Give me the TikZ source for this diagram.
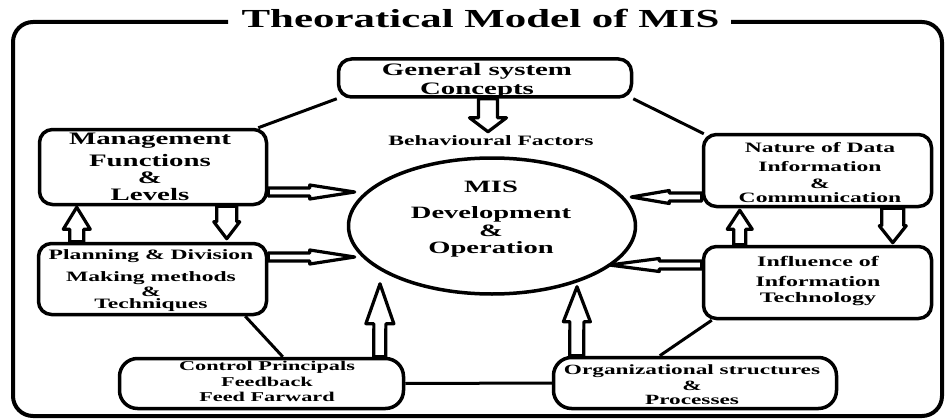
\documentclass[tikz,border=0pt]{standalone}
\usepackage{fontspec}
\setmainfont{Liberation Serif}[FakeStretch=1.65]
\usetikzlibrary{calc,shapes.geometric}
\pgfdeclarelayer{bg}
\pgfsetlayers{bg,main}
\newcommand\fs[2]{\bfseries\fontsize{#1}{#2}\selectfont}
% hollow block arrow: #1 half shaft, #2 half head, #3 head length, #4 from, #5 to
\newcommand\harrow[5]{%
  \coordinate (hah) at ($(#5)!#3pt!(#4)$);
  \draw[hollow] ($(#4)!#1pt!90:(#5)$) -- ($(hah)!#1pt!90:(#5)$) -- ($(hah)!#2pt!90:(#5)$)
    -- (#5) -- ($(hah)!#2pt!-90:(#5)$) -- ($(hah)!#1pt!-90:(#5)$) -- ($(#4)!#1pt!-90:(#5)$) -- cycle;}
\tikzset{
  bx/.style={draw, line width=3.5pt, rounded corners=13pt, inner sep=0pt},
  bxb/.style={draw, line width=3.5pt, rounded corners=18pt, inner sep=0pt},
  txt/.style={inner sep=0pt, align=center, anchor=north},
  conn/.style={line width=3pt},
  hollow/.style={draw, fill=white, line width=3.2pt, line join=round},
  frame/.style={line width=4pt, rounded corners=20pt}
}
\begin{document}
\begin{tikzpicture}[x=1pt, y=-1pt]
\useasboundingbox (0,0) rectangle (951,420);
% outer frame and title
\draw[frame] (228,22) -- (13,22) -- (13,416) -- (942,416) -- (942,22) -- (731,22);
\node[inner sep=0pt, anchor=base, font=\fs{26}{30}] (title) at (480.5,28) {Theoratical Model of MIS};
% boxes
\node[bx, minimum width=293pt, minimum height=38pt] (gs) at (485,78) {};
\node[bx, minimum width=227pt, minimum height=75pt] (mgmt) at (153,167) {};
\node[bx, minimum width=228pt, minimum height=71pt] (plan) at (152.5,279) {};
\node[bx, minimum width=228pt, minimum height=72pt] (nature) at (817.5,170.5) {};
\node[bx, minimum width=228pt, minimum height=72pt] (infl) at (817.5,282.5) {};
\node[bxb, minimum width=284pt, minimum height=50pt] (ctrl) at (261.5,383.5) {};
\node[bxb, minimum width=283pt, minimum height=51pt] (org) at (695,383) {};
\node[draw, ellipse, line width=3.5pt, minimum width=287pt, minimum height=136pt, inner sep=0pt] (mis) at (492,226) {};
% texts
\node[txt, font=\fs{17.5}{21}] (gst) at (477,63) {General system\\[-1.5pt]Concepts};
\node[inner sep=0pt, anchor=base, font=\fs{14.3}{17}] (behav) at (491,145) {Behavioural Factors};
\node[txt, font=\fs{17.3}{20.8}] (mist) at (491,181) {MIS\\[5pt]Development\\[-3pt]\&\\[-3.5pt]Operation};
\node[txt, font=\fs{17.5}{21}] (mgmtt) at (150,133) {Management\\[1pt]Functions\\[-4pt]\&\\[-4.5pt]Levels};
\node[txt, font=\fs{14.3}{17}] (plant) at (151,249) {Planning \& Division\\[5pt]Making methods\\[-2pt]\&\\[-4.5pt]Techniques};
\node[txt, font=\fs{14.3}{17}] (naturet) at (820,142) {Nature of Data\\[2pt]Information\\[0pt]\&\\[-3pt]Communication};
\node[txt, font=\fs{14.5}{17.4}] (inflt) at (818,256) {Influence of\\[2.2pt]Information\\[-1pt]Technology};
\node[txt, font=\fs{13.5}{16.2}] (ctrlt) at (267,361) {Control Principals\\[0pt]Feedback\\[-1.5pt]Feed Farward};
\node[txt, font=\fs{14.1}{17}] (orgt) at (692,365) {Organizational structures\\[-1pt]\&\\[-3.5pt]Processes};
% plain connectors
\draw[conn] (gs.south west) -- ($(mgmt.north east)+(-10,0)$);
\draw[conn] (gs.south east) -- ($(nature.north west)+(2,1)$);
\draw[conn] ($(plan.south east)+(-23,0)$) -- ($(ctrl.north west)+(165,0)$);
\draw[conn] ($(infl.south west)+(10,0)$) -- ($(org.north west)+(108,0)$);
\draw[conn] (ctrl.east) -- (org.west);
% hollow arrows
\begin{pgfonlayer}{bg}
\harrow{9.5}{18.5}{14}{$(gs.south)+(3,0)$}{$(gs.south)+(3,33)$}
\harrow{4}{7}{45}{$(mgmt.east)+(0,25)$}{$(mis.west)+(8,-34)$}
\harrow{4}{7}{45}{$(plan.east)+(0,-22)$}{$(mis.west)+(8,31)$}
\harrow{4}{6.5}{38}{$(nature.west)+(0,26.5)$}{$(mis.east)+(-6,-29)$}
\harrow{4}{6.5}{50}{$(infl.west)+(0,-17.5)$}{$(mis.east)+(-28,39)$}
\harrow{7}{13.5}{22}{$(plan.north west)+(40,0)$}{$(mgmt.south west)+(39,1)$}
\harrow{10}{13}{17}{$(mgmt.south west)+(189,0)$}{$(plan.north west)+(190,-3)$}
\harrow{6}{12.5}{19}{$(infl.north west)+(38,0)$}{$(nature.south west)+(38,2)$}
\harrow{11}{13.5}{17}{$(nature.south west)+(191,0)$}{$(infl.north west)+(191,-2)$}
\harrow{6}{14}{40}{$(ctrl.north west)+(262,0)$}{$(mis.south)+(-112,-12)$}
\harrow{7}{13.5}{35}{$(org.north west)+(25,0)$}{$(mis.south)+(85,-9)$}
\end{pgfonlayer}
\end{tikzpicture}
\end{document}
